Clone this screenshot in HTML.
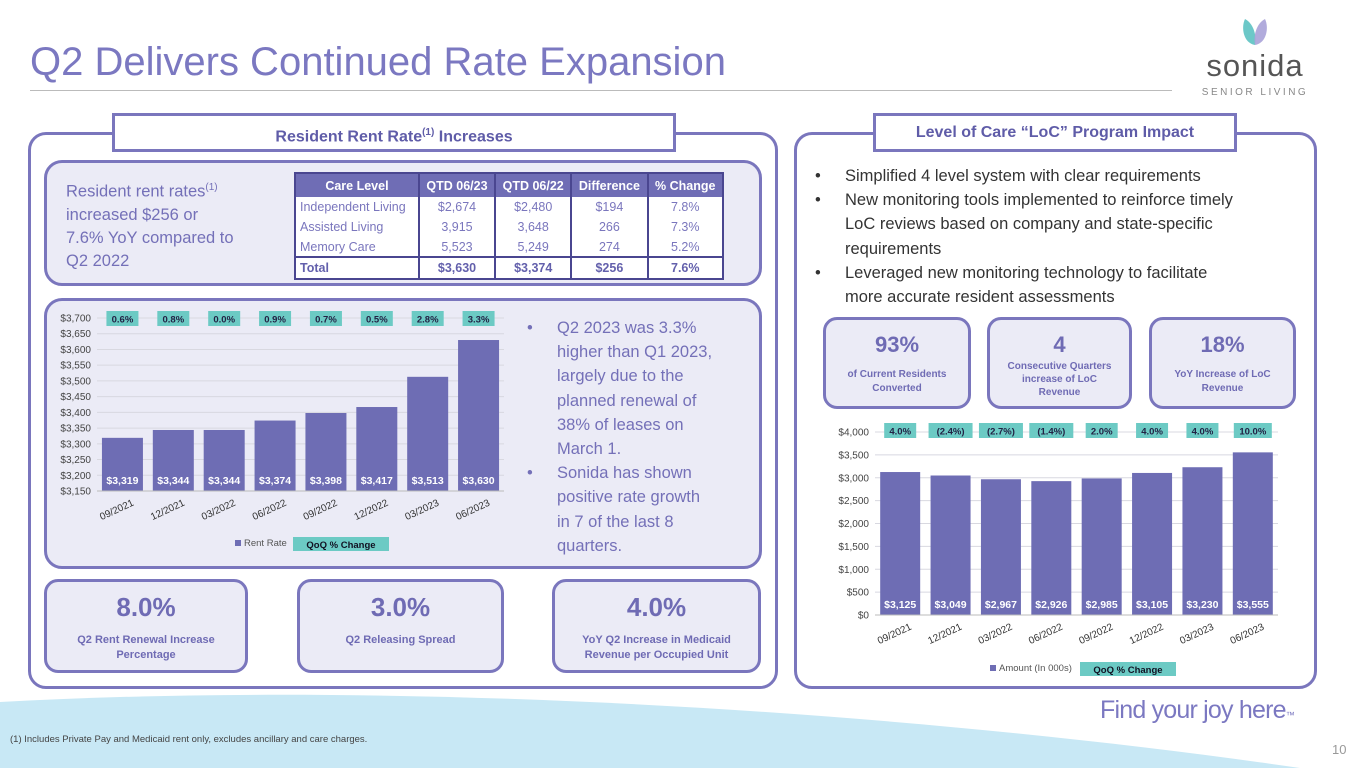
<!DOCTYPE html>
<html><head><meta charset="utf-8">
<style>
*{margin:0;padding:0;box-sizing:border-box}
body{width:1365px;height:768px;position:relative;overflow:hidden;background:#fff;font-family:"Liberation Sans",sans-serif}
.abs{position:absolute}
.panel{position:absolute;border:3px solid #7a76bd;border-radius:18px;background:#fff}
.box{position:absolute;border:3px solid #7a76bd;border-radius:18px;background:#ebebf6}
.tab{position:absolute;border:3px solid #7a76bd;background:#fff;color:#5f5ca8;font-weight:bold;font-size:16px;text-align:center;line-height:33px}
.kpi{position:absolute;border:3px solid #7a76bd;border-radius:14px;background:#ebebf6;text-align:center;color:#6f6bb4;font-weight:bold}
.kpi .big{font-size:26px;margin-top:10px}
.kpi .lbl{font-size:11px;line-height:15px}
table{border-collapse:collapse;font-size:12.5px;color:#7a76bd}
td,th{border-left:2px solid #4a4690;border-right:2px solid #4a4690;padding:0 4px;height:20px;text-align:center;white-space:nowrap}
th{background:#6f6db5;color:#fff;height:24px}
ul{list-style:none;white-space:nowrap}
li{position:relative;padding-left:30px}
li:before{content:"•";position:absolute;left:0}
</style></head><body>
<svg class="abs" style="left:0;top:690px" width="1365" height="78"><path d="M0 12 C400 -10 900 20 1300 78 L0 78 Z" fill="#c8e8f5"/></svg>
<div class="abs" style="left:30px;top:40px;font-size:40px;color:#7b78c1;white-space:nowrap">Q2 Delivers Continued Rate Expansion</div>
<div class="abs" style="left:30px;top:90px;width:1142px;height:1px;background:#bbb"></div>
<div class="abs" style="left:1190px;top:14px;width:130px;height:90px;text-align:center">
<svg width="40" height="34" viewBox="0 0 40 32"><path d="M20 30 C8 28 6 12 10 4 C18 8 22 20 20 30Z" fill="#6cc8c8"/><path d="M20 30 C32 28 34 12 30 4 C22 8 18 20 20 30Z" fill="#a9a2d8" opacity=".9"/></svg>
<div style="font-size:31px;color:#555;letter-spacing:1px;line-height:30px;margin-top:-2px">sonida</div>
<div style="font-size:10px;color:#888;letter-spacing:2.5px;white-space:nowrap;margin-top:6px">SENIOR LIVING</div></div>

<div class="panel" style="left:28px;top:132px;width:750px;height:557px"></div>
<div class="tab" style="left:112px;top:113px;width:564px;height:39px">Resident Rent Rate<sup style="font-size:10px">(1)</sup> Increases</div>
<div class="box" style="left:44px;top:160px;width:718px;height:126px"></div>
<div class="abs" style="left:66px;top:176px;font-size:16.5px;line-height:23px;color:#7470b8;white-space:nowrap">Resident rent rates<sup style="font-size:10px">(1)</sup><br>increased $256 or<br>7.6% YoY compared to<br>Q2 2022</div>
<table class="abs" style="left:294px;top:172px;width:430px;border:2px solid #4a4690;background:#fff">
<tr><th>Care Level</th><th>QTD 06/23</th><th>QTD 06/22</th><th>Difference</th><th>% Change</th></tr>
<tr><td style="text-align:left">Independent Living</td><td>$2,674</td><td>$2,480</td><td>$194</td><td>7.8%</td></tr>
<tr><td style="text-align:left">Assisted Living</td><td>3,915</td><td>3,648</td><td>266</td><td>7.3%</td></tr>
<tr><td style="text-align:left">Memory Care</td><td>5,523</td><td>5,249</td><td>274</td><td>5.2%</td></tr>
<tr style="border-top:2px solid #4a4690;font-weight:bold;color:#6360ac"><td style="text-align:left;height:22px">Total</td><td>$3,630</td><td>$3,374</td><td>$256</td><td>7.6%</td></tr>
</table>
<div class="box" style="left:44px;top:298px;width:718px;height:271px"></div>
<svg id="c1" class="abs" style="left:46px;top:300px" width="470" height="266"></svg>
<ul class="abs" style="left:527px;top:316px;width:235px;font-size:16.5px;line-height:24.2px;color:#7470b8">
<li>Q2 2023 was 3.3%<br>higher than Q1 2023,<br>largely due to the<br>planned renewal of<br>38% of leases on<br>March 1.</li>
<li>Sonida has shown<br>positive rate growth<br>in 7 of the last 8<br>quarters.</li></ul>
<div class="kpi" style="left:44px;top:579px;width:204px;height:94px"><div class="big">8.0%</div><div class="lbl" style="margin-top:10px">Q2 Rent Renewal Increase<br>Percentage</div></div>
<div class="kpi" style="left:297px;top:579px;width:207px;height:94px"><div class="big">3.0%</div><div class="lbl" style="margin-top:10px">Q2 Releasing Spread</div></div>
<div class="kpi" style="left:552px;top:579px;width:209px;height:94px"><div class="big">4.0%</div><div class="lbl" style="margin-top:10px">YoY Q2 Increase in Medicaid<br>Revenue per Occupied Unit</div></div>

<div class="panel" style="left:794px;top:132px;width:523px;height:557px"></div>
<div class="tab" style="left:873px;top:113px;width:364px;height:39px">Level of Care “LoC” Program Impact</div>
<ul class="abs" style="left:815px;top:164px;width:495px;font-size:16.5px;line-height:24.2px;color:#333">
<li>Simplified 4 level system with clear requirements</li>
<li>New monitoring tools implemented to reinforce timely<br>LoC reviews based on company and state-specific<br>requirements</li>
<li>Leveraged new monitoring technology to facilitate<br>more accurate resident assessments</li></ul>
<div class="kpi" style="left:823px;top:317px;width:148px;height:92px"><div class="big" style="font-size:22px;margin-top:12px">93%</div><div class="lbl" style="margin-top:10px;font-size:10px;line-height:14px">of Current Residents<br>Converted</div></div>
<div class="kpi" style="left:987px;top:317px;width:145px;height:92px"><div class="big" style="font-size:22px;margin-top:12px">4</div><div class="lbl" style="margin-top:2px;font-size:10px;line-height:13px">Consecutive Quarters<br>increase of LoC<br>Revenue</div></div>
<div class="kpi" style="left:1149px;top:317px;width:147px;height:92px"><div class="big" style="font-size:22px;margin-top:12px">18%</div><div class="lbl" style="margin-top:10px;font-size:10px;line-height:14px">YoY Increase of LoC<br>Revenue</div></div>
<svg id="c2" class="abs" style="left:800px;top:415px" width="490" height="265"></svg>

<div class="abs" style="left:10px;top:734px;font-size:9.5px;color:#444">(1) Includes Private Pay and Medicaid rent only, excludes ancillary and care charges.</div>
<div class="abs" style="left:1100px;top:696px;font-size:25px;color:#7b78c1;letter-spacing:-0.8px;white-space:nowrap">Find your joy here<span style="font-size:9px">™</span></div>
<div class="abs" style="left:1332px;top:742px;font-size:13px;color:#999">10</div>

<script>
const cats=["09/2021","12/2021","03/2022","06/2022","09/2022","12/2022","03/2023","06/2023"];
const rentValues=[3319,3344,3344,3374,3398,3417,3513,3630];
const rentQoQ=["0.6%","0.8%","0.0%","0.9%","0.7%","0.5%","2.8%","3.3%"];
const rentTicks=[3150,3200,3250,3300,3350,3400,3450,3500,3550,3600,3650,3700];
const locValues=[3125,3049,2967,2926,2985,3105,3230,3555];
const locQoQ=["4.0%","(2.4%)","(2.7%)","(1.4%)","2.0%","4.0%","4.0%","10.0%"];
const locTicks=[0,500,1000,1500,2000,2500,3000,3500,4000];
const NS="http://www.w3.org/2000/svg";
function mk(p,t,a,txt){const e=document.createElementNS(NS,t);for(const k in a)e.setAttribute(k,a[k]);if(txt!==undefined)e.textContent=txt;p.appendChild(e);return e;}
function fmt(v){return "$"+v.toLocaleString("en-US");}
function draw(svg,o){
  const y=v=>o.y0-(v-o.min)/(o.max-o.min)*(o.y0-o.y1);
  const step=(o.xr-o.xl)/cats.length;
  o.ticks.forEach(t=>{
    const g=mk(svg,"line",{x1:o.xl,x2:o.xr,y1:y(t),y2:y(t),stroke:"#d8d8e0","stroke-width":1});
    
    const l=mk(svg,"text",{x:o.xl-6,y:y(t)+3.5,"text-anchor":"end","font-size":10,fill:"#444"},fmt(t));
    
  });
  cats.forEach((c,i)=>{
    const cx=o.xl+step*(i+0.5),v=o.vals[i];
    const r=mk(svg,"rect",{x:cx-o.bw/2,y:y(v),width:o.bw,height:o.y0-y(v),fill:"#6e6db4"});
    
    const vl=mk(svg,"text",{x:cx,y:o.y0-7,"text-anchor":"middle","font-size":10.5,"font-weight":"bold",fill:"#fff"},fmt(v));
    
    const w=o.pct[i].length*6+8;
    const b=mk(svg,"rect",{x:cx-w/2,y:o.py-8,width:w,height:15,fill:"#6ccac4"});
    
    const bt=mk(svg,"text",{x:cx,y:o.py+3.5,"text-anchor":"middle","font-size":9.5,"font-weight":"bold",fill:"#224"},o.pct[i]);
    
    const xl=mk(svg,"text",{x:cx+12,y:o.y0+14,"text-anchor":"end","font-size":10,fill:"#333",transform:`rotate(-25 ${cx+12} ${o.y0+14})`},c);
    
  });
  const ax=mk(svg,"line",{x1:o.xl,x2:o.xr,y1:o.y0,y2:o.y0,stroke:"#bbb"});
  
  const ls=mk(svg,"rect",{x:o.lx,y:o.ly-6,width:6,height:6,fill:"#6e6db4"});
  
  const lt=mk(svg,"text",{x:o.lx+9,y:o.ly,"font-size":9.5,fill:"#555"},o.leg);
  
  const lb=mk(svg,"rect",{x:o.lx+o.lw,y:o.ly-9,width:96,height:14,fill:"#6ccac4"});
  
  const lq=mk(svg,"text",{x:o.lx+o.lw+48,y:o.ly+2,"text-anchor":"middle","font-size":9.5,"font-weight":"bold",fill:"#112"},"QoQ % Change");
  
}
draw(document.getElementById("c1"),{vals:rentValues,pct:rentQoQ,ticks:rentTicks,min:3150,max:3700,y0:191,y1:18,xl:51,xr:458,bw:41,py:19,lx:189,ly:246,leg:"Rent Rate",lw:58});
draw(document.getElementById("c2"),{vals:locValues,pct:locQoQ,ticks:locTicks,min:0,max:4000,y0:200,y1:17,xl:75,xr:478,bw:40,py:16,lx:190,ly:256,leg:"Amount (In 000s)",lw:90});
</script>
</body></html>
